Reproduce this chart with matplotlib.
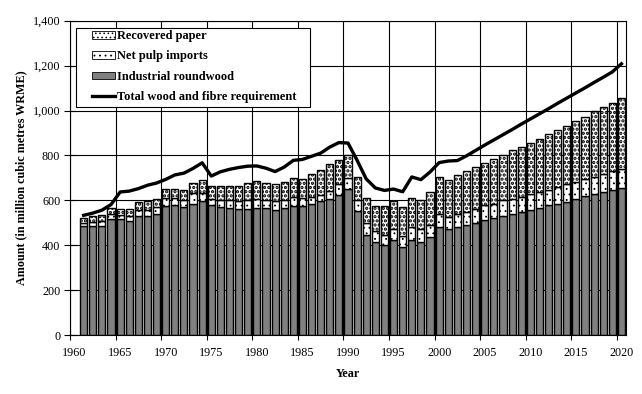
import matplotlib
matplotlib.use("Agg")
import matplotlib.pyplot as plt
import numpy as np
from matplotlib.patches import Patch, Rectangle
from matplotlib.lines import Line2D

years = list(range(1961, 2021))

industrial_roundwood = [
    484, 486, 487, 516, 516, 508, 532, 532, 541, 573,
    578, 568, 582, 596, 579, 568, 564, 563, 560, 565,
    564, 559, 564, 575, 573, 585, 596, 607, 625, 652,
    551, 447, 416, 399, 421, 391, 425, 415, 436, 483,
    470, 479, 489, 501, 511, 519, 529, 538, 550, 559,
    567, 578, 585, 594, 607, 618, 627, 637, 647, 656]

net_pulp_imports = [
    17, 18, 21, 21, 20, 24, 25, 27, 28, 36,
    33, 34, 50, 38, 25, 33, 37, 35, 41, 39,
    38, 37, 38, 39, 37, 30, 26, 34, 49, 49,
    49, 52, 48, 45, 52, 50, 56, 55, 53, 58,
    57, 62, 59, 62, 67, 66, 71, 69, 65, 68,
    70, 69, 74, 77, 74, 77, 77, 79, 82, 85]

recovered_paper = [
    22, 25, 28, 30, 27, 31, 36, 38, 38, 43,
    41, 46, 47, 56, 59, 62, 62, 65, 74, 81,
    76, 75, 78, 87, 86, 101, 114, 119, 107, 102,
    105, 112, 112, 130, 124, 130, 130, 133, 149, 165,
    162, 170, 181, 184, 186, 197, 203, 215, 224, 229,
    237, 249, 255, 261, 273, 277, 292, 299, 305, 314]

total_requirement = [
    533, 543, 556, 581, 637, 641, 652, 667, 677, 693,
    713, 721, 742, 767, 708, 727, 738, 746, 752, 753,
    743, 728, 748, 778, 782, 796, 810, 837, 857, 855,
    778, 695, 655, 644, 650, 638, 704, 692, 726, 768,
    775, 777, 798, 822, 846, 869, 892, 915, 939, 962,
    985, 1008, 1032, 1055, 1078, 1101, 1125, 1148, 1172, 1208]

y_ticks = [0, 200, 400, 600, 800, 1000, 1200, 1400]
x_labels = [1960, 1965, 1970, 1975, 1980, 1985, 1990, 1995, 2000, 2005, 2010, 2015, 2020]

plt.rcParams['font.family'] = ['Liberation Serif', 'DejaVu Serif']

fig = plt.figure(figsize=(6.42, 3.94), dpi=100)
ax = fig.add_axes([70/642, 1-335/394, (626-70)/642, (335-20.7)/394])

x = np.array(years)
ir = np.array(industrial_roundwood)
pulp = np.array(net_pulp_imports)
rec = np.array(recovered_paper)

w = 0.78
ELW = 1.0
PULP_HATCH = '...'
REC_HATCH = '....'
ax.bar(x, ir, width=w, color='#808080', edgecolor='black', linewidth=ELW, zorder=2)
plt.rcParams['hatch.linewidth'] = 0.6
ax.bar(x, pulp, width=w, bottom=ir, color='white', edgecolor='black', linewidth=ELW,
       hatch=PULP_HATCH, zorder=2)
plt.rcParams['hatch.linewidth'] = 1.6
ax.bar(x, rec, width=w, bottom=ir+pulp, color='white', edgecolor='black', linewidth=ELW,
       hatch=REC_HATCH, zorder=2)
ax.plot(x, total_requirement, color='black', linewidth=2.4, zorder=3)

ax.set_xlim(1959.5, 2020.5)
ax.set_ylim(0, 1400)
ax.set_yticks(y_ticks)
ax.set_yticklabels([f"{v:,}" for v in y_ticks])
ax.set_xticks([v - 0.5 for v in x_labels])
ax.set_xticklabels([])
ax.set_xticks(x_labels, minor=True)
ax.set_xticklabels([str(v) for v in x_labels], minor=True)
ax.tick_params(axis='x', which='major', direction='inout', length=7, width=0.8, color='black')
ax.tick_params(axis='x', which='minor', length=0, pad=9, labelsize=8.7)
ax.tick_params(axis='y', which='major', direction='inout', length=8, width=0.8, pad=3, labelsize=8.7)
ax.grid(True, which='major', color='black', linewidth=0.8, zorder=0)
ax.set_axisbelow(True)
for s in ax.spines.values():
    s.set_linewidth(0.8)
    s.set_color('black')

ax.set_xlabel('Year', fontweight='bold', fontsize=8.7, labelpad=6)
ax.set_ylabel('Amount (in million cubic metres WRME)', fontweight='bold', fontsize=8.7, labelpad=4)

def ax_x(px):
    return (px - 70) / 556
def ax_y(py):
    return 1 - (py - 20.7) / 314.3

frame = Rectangle((ax_x(76), ax_y(107)), ax_x(310) - ax_x(76), ax_y(28) - ax_y(107),
                  transform=ax.transAxes, facecolor='white', edgecolor='black',
                  linewidth=0.8, zorder=4)
ax.add_patch(frame)

plt.rcParams['hatch.linewidth'] = 1.6
h_rec = Patch(facecolor='white', edgecolor='black', hatch=REC_HATCH, linewidth=0.6)
plt.rcParams['hatch.linewidth'] = 0.6
h_pulp = Patch(facecolor='white', edgecolor='black', hatch=PULP_HATCH, linewidth=0.6)
h_ir = Patch(facecolor='#808080', edgecolor='black', linewidth=0.6)
h_line = Line2D([0], [0], color='black', linewidth=2.4)
labels = ['Recovered paper', 'Net pulp imports', 'Industrial roundwood', 'Total wood and fibre requirement']
leg = ax.legend([h_rec, h_pulp, h_ir, h_line], labels, loc='upper left',
                bbox_to_anchor=(ax_x(92), ax_y(30)),
                borderaxespad=0, frameon=False,
                prop={'weight': 'bold', 'size': 8.9}, handlelength=1.85, handleheight=0.6,
                handletextpad=0.15, labelspacing=0.68, borderpad=0)
leg.set_zorder(5)

fig.savefig('out.png', dpi=100)
